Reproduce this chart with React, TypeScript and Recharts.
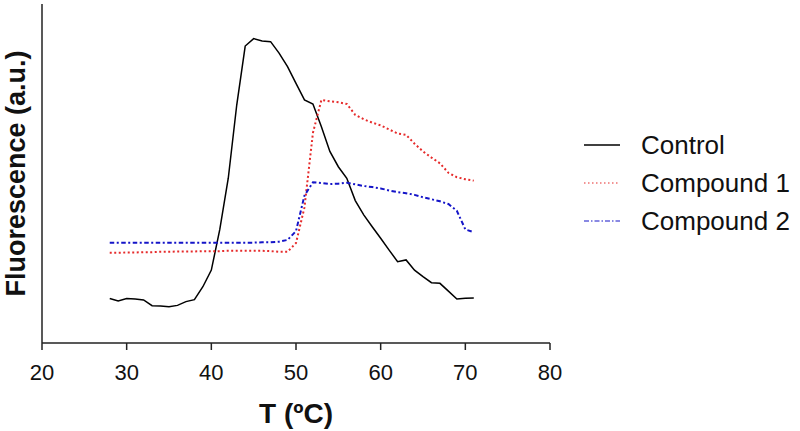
import React from 'react';
import { LineChart, Line, XAxis, YAxis, Legend } from 'recharts';

// temperature points (ºC)
const temps = [
  28, 29, 30, 31, 32, 33, 34, 35, 36, 37, 38, 39, 40, 41, 42, 43, 44, 45, 46, 47, 48, 49,
  50, 51, 52, 53, 54, 55, 56, 57, 58, 59, 60, 61, 62, 63, 64, 65, 66, 67, 68, 69, 70, 71,
];

const control = [
  13.1, 12.4, 13.1, 13.0, 12.7, 11.0, 10.9, 10.7, 11.1, 12.2, 12.8, 16.6, 21.5, 33.5, 48.6, 70.2,
  87.6, 89.8, 89.1, 88.9, 85.5, 81.5, 76.6, 71.7, 70.5, 63.8, 56.5, 52.0, 48.6, 42.0, 37.8, 34.3,
  30.9, 27.4, 24.0, 24.5, 21.5, 19.6, 17.8, 17.6, 15.3, 13.0, 13.2, 13.3,
];

const compound1 = [
  26.6, 26.6, 26.7, 26.7, 26.8, 26.8, 26.9, 26.9, 27.0, 27.0, 27.0, 27.1, 27.1, 27.1, 27.2, 27.2,
  27.2, 27.2, 27.2, 27.1, 26.9, 26.9, 29.5, 40.0, 62.0, 71.7, 71.3, 71.0, 70.5, 67.3, 66.0, 65.0,
  64.2, 63.0, 61.8, 61.4, 58.8, 56.5, 54.7, 53.0, 50.2, 48.9, 48.3, 47.9,
];

const compound2 = [
  29.6, 29.6, 29.6, 29.6, 29.6, 29.6, 29.6, 29.6, 29.6, 29.6, 29.6, 29.6, 29.6, 29.6, 29.6, 29.6,
  29.6, 29.6, 29.7, 29.7, 29.9, 30.4, 33.0, 43.5, 47.4, 47.2, 46.9, 47.0, 47.3, 46.8, 46.3, 46.0,
  45.6, 45.0, 44.5, 44.2, 43.7, 43.0, 42.4, 41.8, 41.0, 39.0, 33.5, 32.7,
];

const xTicks = [20, 30, 40, 50, 60, 70, 80];

const series = [
  { key: 'control', name: 'Control', color: '#000000', dash: undefined as string | undefined, legendDash: undefined as string | undefined, width: 1.5 },
  { key: 'compound1', name: 'Compound 1', color: '#e62b2b', dash: '2 2.5', legendDash: '1.5 2.5', width: 2 },
  { key: 'compound2', name: 'Compound 2', color: '#1414c8', dash: '4.5 2.5 2 2.5', legendDash: '5 2 1.5 2', width: 2 },
];

const data = temps.map((t, i) => ({
  t,
  control: control[i],
  compound1: compound1[i],
  compound2: compound2[i],
}));

const FONT = '"Liberation Sans", Arial, sans-serif';

const renderLegend = () => (
  <div style={{ fontFamily: FONT }}>
    {series.map(s => (
      <div key={s.key} style={{ display: 'flex', alignItems: 'center', height: 38 }}>
        <svg width={36} height={10} style={{ marginRight: 21 }}>
          <line x1={0} y1={5} x2={36} y2={5} stroke={s.color} strokeWidth={s.key === 'control' ? 1.5 : 1.2} strokeDasharray={s.legendDash} />
        </svg>
        <span style={{ fontSize: 26, color: '#111' }}>{s.name}</span>
      </div>
    ))}
  </div>
);

export default function App() {
  return (
    <div style={{ width: 800, height: 431, background: '#fff' }}>
      <style>{`body{margin:0;}`}</style>
      <LineChart width={800} height={431} data={data} margin={{ top: 4, right: 250, bottom: 0, left: 0 }}>
        <XAxis
          dataKey="t"
          type="number"
          domain={[20, 80]}
          ticks={xTicks}
          stroke="#222"
          strokeWidth={1.5}
          tickSize={7}
          tickMargin={14}
          height={88}
          tick={{ fill: '#111', fontSize: 22, fontFamily: FONT }}
          label={{ value: 'T (ºC)', position: 'insideBottom', offset: 8, fill: '#111', fontSize: 28, fontWeight: 'bold', fontFamily: FONT }}
        />
        <YAxis
          domain={[0, 100]}
          tick={false}
          tickLine={false}
          width={42}
          stroke="#222"
          strokeWidth={1.5}
          label={{ value: 'Fluorescence (a.u.)', angle: -90, position: 'center', dx: -6, fill: '#111', fontSize: 27, fontWeight: 'bold', fontFamily: FONT }}
        />
        <Legend
          layout="horizontal"
          align="center"
          verticalAlign="middle"
          content={renderLegend}
          wrapperStyle={{ left: 584, top: 126, width: 216 }}
        />
        {series.map(s => (
          <Line
            key={s.key}
            type="linear"
            dataKey={s.key}
            name={s.name}
            stroke={s.color}
            strokeWidth={s.width}
            strokeDasharray={s.dash}
            dot={false}
            activeDot={false}
            isAnimationActive={false}
          />
        ))}
      </LineChart>
    </div>
  );
}
